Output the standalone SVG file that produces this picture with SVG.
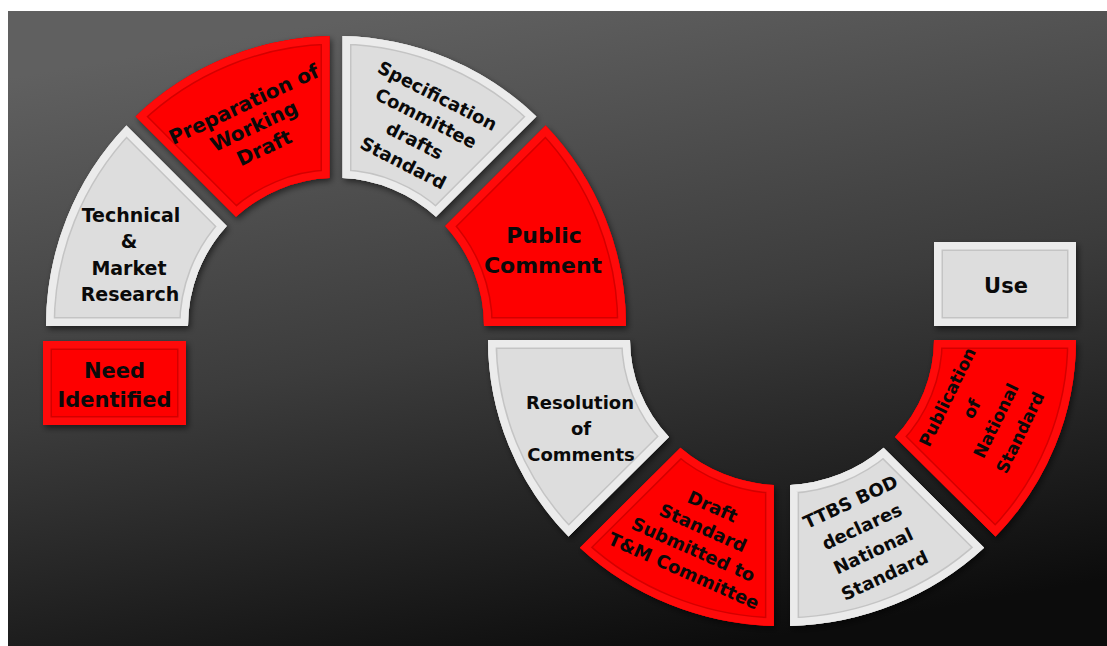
<svg xmlns="http://www.w3.org/2000/svg" xmlns:xlink="http://www.w3.org/1999/xlink" width="1107" height="646" viewBox="0 0 1107 646">
<style>
.gf{fill:#dddddd}
.gl{fill:none;stroke:#c4c4c4;stroke-width:18}
.gr{fill:none;stroke:#ebebeb;stroke-width:15}
.rf{fill:#fe0000}
.rl{fill:none;stroke:#d40000;stroke-width:18}
.rr{fill:none;stroke:#ff0a0a;stroke-width:15}
.t{font-family:"DejaVu Sans",sans-serif;font-weight:bold;fill:#0a0a0a;text-anchor:middle}
</style>
<defs>
<linearGradient id="bg" x1="0.35" y1="0" x2="0.65" y2="1">
<stop offset="0" stop-color="#606060"/>
<stop offset="0.5" stop-color="#3c3c3c"/>
<stop offset="1" stop-color="#0c0c0c"/>
</linearGradient>
<filter id="sh" x="-20%" y="-20%" width="140%" height="140%">
<feDropShadow dx="2" dy="3" stdDeviation="3" flood-color="#000" flood-opacity="0.55"/>
</filter>
<path id="p-tech" d="M46,326 A290,290 0 0 1 126.4,125.6 L226.8,226 A148,148 0 0 0 188,326 Z"/>
<path id="p-prep" d="M135.6,116.4 A290,290 0 0 1 329.5,36.1 L329.5,178.1 A148,148 0 0 0 236,216.8 Z"/>
<path id="p-spec" d="M342.5,36.1 A290,290 0 0 1 536.4,116.4 L436,216.8 A148,148 0 0 0 342.5,178.1 Z"/>
<path id="p-pub" d="M545.6,125.6 A290,290 0 0 1 626,326 L484,326 A148,148 0 0 0 445.2,226 Z"/>
<path id="p-res" d="M488,340 A294,286 0 0 0 568.5,536.6 L669,436.9 A152,145 0 0 1 630,340 Z"/>
<path id="p-draft" d="M579.9,547.7 A294,286 0 0 0 773.9,626 L773.9,485 A152,145 0 0 1 680.4,447.8 Z"/>
<path id="p-ttbs" d="M790.1,626 A294,286 0 0 0 984.1,547.7 L883.6,447.8 A152,145 0 0 1 790.1,485 Z"/>
<path id="p-publ" d="M995.5,536.6 A294,286 0 0 0 1076,340 L934,340 A152,145 0 0 1 895,436.9 Z"/>
<path id="p-need" d="M43,341 H186 V425 H43 Z"/>
<path id="p-use" d="M934,242 H1076 V326 H934 Z"/>
<clipPath id="c-tech"><use xlink:href="#p-tech"/></clipPath>
<clipPath id="c-prep"><use xlink:href="#p-prep"/></clipPath>
<clipPath id="c-spec"><use xlink:href="#p-spec"/></clipPath>
<clipPath id="c-pub"><use xlink:href="#p-pub"/></clipPath>
<clipPath id="c-res"><use xlink:href="#p-res"/></clipPath>
<clipPath id="c-draft"><use xlink:href="#p-draft"/></clipPath>
<clipPath id="c-ttbs"><use xlink:href="#p-ttbs"/></clipPath>
<clipPath id="c-publ"><use xlink:href="#p-publ"/></clipPath>
<clipPath id="c-need"><use xlink:href="#p-need"/></clipPath>
<clipPath id="c-use"><use xlink:href="#p-use"/></clipPath>
</defs>
<rect x="0" y="0" width="1107" height="646" fill="#ffffff"/>
<rect x="8" y="11" width="1099" height="635" fill="url(#bg)"/>

<g id="need">
<use xlink:href="#p-need" class="rf" filter="url(#sh)"/>
<g clip-path="url(#c-need)"><use xlink:href="#p-need" class="rl"/><use xlink:href="#p-need" class="rr"/></g>
<text class="t" font-size="21"><tspan x="114.5" y="378">Need</tspan><tspan x="114.5" y="407">Identified</tspan></text>
</g>

<g id="technical">
<use xlink:href="#p-tech" class="gf" filter="url(#sh)"/>
<g clip-path="url(#c-tech)"><use xlink:href="#p-tech" class="gl"/><use xlink:href="#p-tech" class="gr"/></g>
<text class="t" font-size="19"><tspan x="131" y="222">Technical</tspan><tspan x="129" y="248">&amp;</tspan><tspan x="129" y="275">Market</tspan><tspan x="130" y="301">Research</tspan></text>
</g>

<g id="preparation">
<use xlink:href="#p-prep" class="rf" filter="url(#sh)"/>
<g clip-path="url(#c-prep)"><use xlink:href="#p-prep" class="rl"/><use xlink:href="#p-prep" class="rr"/></g>
<g transform="translate(254,126) rotate(-25)">
<text class="t" font-size="20"><tspan x="0" y="-17">Preparation of</tspan><tspan x="0" y="7">Working</tspan><tspan x="0" y="31">Draft</tspan></text>
</g>
</g>

<g id="specification">
<use xlink:href="#p-spec" class="gf" filter="url(#sh)"/>
<g clip-path="url(#c-spec)"><use xlink:href="#p-spec" class="gl"/><use xlink:href="#p-spec" class="gr"/></g>
<g transform="translate(420.3,129.5) rotate(27)">
<text class="t" font-size="18"><tspan x="0" y="-31.4">Specification</tspan><tspan x="0" y="-6.3">Committee</tspan><tspan x="0" y="18.9">drafts</tspan><tspan x="0" y="44">Standard</tspan></text>
</g>
</g>

<g id="public-comment">
<use xlink:href="#p-pub" class="rf" filter="url(#sh)"/>
<g clip-path="url(#c-pub)"><use xlink:href="#p-pub" class="rl"/><use xlink:href="#p-pub" class="rr"/></g>
<text class="t" font-size="22"><tspan x="544" y="243">Public</tspan><tspan x="543" y="273">Comment</tspan></text>
</g>

<g id="resolution">
<use xlink:href="#p-res" class="gf" filter="url(#sh)"/>
<g clip-path="url(#c-res)"><use xlink:href="#p-res" class="gl"/><use xlink:href="#p-res" class="gr"/></g>
<text class="t" font-size="18"><tspan x="580" y="409">Resolution</tspan><tspan x="581" y="435">of</tspan><tspan x="581" y="461">Comments</tspan></text>
</g>

<g id="draft-standard">
<use xlink:href="#p-draft" class="rf" filter="url(#sh)"/>
<g clip-path="url(#c-draft)"><use xlink:href="#p-draft" class="rl"/><use xlink:href="#p-draft" class="rr"/></g>
<g transform="translate(698.2,538.7) rotate(24)">
<text class="t" font-size="18"><tspan x="0" y="-28.9">Draft</tspan><tspan x="0" y="-5.4">Standard</tspan><tspan x="0" y="18.1">Submitted to</tspan><tspan x="0" y="41.6">T&amp;M Committee</tspan></text>
</g>
</g>

<g id="ttbs">
<use xlink:href="#p-ttbs" class="gf" filter="url(#sh)"/>
<g clip-path="url(#c-ttbs)"><use xlink:href="#p-ttbs" class="gl"/><use xlink:href="#p-ttbs" class="gr"/></g>
<g transform="translate(867.5,538.6) rotate(-25)">
<text class="t" font-size="18"><tspan x="0" y="-34">TTBS BOD</tspan><tspan x="0" y="-7">declares</tspan><tspan x="0" y="20">National</tspan><tspan x="0" y="47">Standard</tspan></text>
</g>
</g>

<g id="publication">
<use xlink:href="#p-publ" class="rf" filter="url(#sh)"/>
<g clip-path="url(#c-publ)"><use xlink:href="#p-publ" class="rl"/><use xlink:href="#p-publ" class="rr"/></g>
<g transform="translate(984.2,415) rotate(-64)">
<text class="t" font-size="17"><tspan x="0" y="-35">Publication</tspan><tspan x="0" y="-8">of</tspan><tspan x="0" y="19">National</tspan><tspan x="0" y="46">Standard</tspan></text>
</g>
</g>

<g id="use">
<use xlink:href="#p-use" class="gf" filter="url(#sh)"/>
<g clip-path="url(#c-use)"><use xlink:href="#p-use" class="gl"/><use xlink:href="#p-use" class="gr"/></g>
<text class="t" font-size="21"><tspan x="1006" y="293">Use</tspan></text>
</g>
</svg>
